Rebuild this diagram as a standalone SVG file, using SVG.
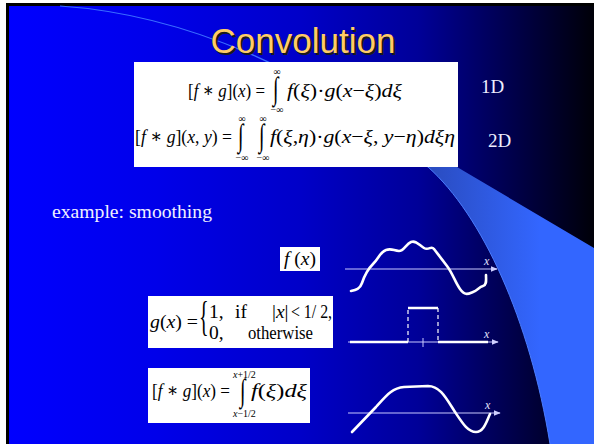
<svg xmlns="http://www.w3.org/2000/svg" width="594" height="444" viewBox="0 0 594 444">
<defs>
<linearGradient id="bg" gradientUnits="userSpaceOnUse" x1="8" y1="0" x2="594" y2="0">
<stop offset="0" stop-color="#0000ff"/>
<stop offset="0.25" stop-color="#0000ea"/>
<stop offset="0.5" stop-color="#0000c8"/>
<stop offset="0.7" stop-color="#000098"/>
<stop offset="0.85" stop-color="#000050"/>
<stop offset="1" stop-color="#000008"/>
</linearGradient>
<linearGradient id="band" gradientUnits="userSpaceOnUse" x1="430" y1="0" x2="540" y2="0">
<stop offset="0" stop-color="#2a4cc0"/>
<stop offset="1" stop-color="#3366ff"/>
</linearGradient>
<marker id="arr" viewBox="0 0 10 10" refX="9" refY="5" markerWidth="7" markerHeight="7" markerUnits="userSpaceOnUse" orient="auto">
<path d="M0,1 L10,5 L0,9 Z" fill="#d0d0ff"/>
</marker>
<style>
.m{font-family:"Liberation Serif","DejaVu Serif",serif;font-size:19.5px;fill:#000}
.i{font-style:italic}
.lim{font-family:"Liberation Serif","DejaVu Serif",serif;font-size:10px;fill:#000}
.int{font-family:"Liberation Serif","DejaVu Serif",serif;font-size:22px;fill:#000}
.br{font-family:"Liberation Serif","DejaVu Serif",serif;font-size:20px;fill:#000}
.lbl{font-family:"Liberation Serif",serif;font-size:19px;fill:#f0f0ff}
.ax{stroke:#c8c8ff;stroke-width:1;fill:none}
.ax-x{font-family:"Liberation Serif",serif;font-style:italic;font-size:12px;fill:#e0e0ff}
.crv{stroke:#fff;stroke-width:2.6;fill:none;stroke-linejoin:round;stroke-linecap:round}
.box{fill:#fff}
</style>
</defs>
<rect x="0" y="0" width="594" height="444" fill="#fff"/>
<rect x="6" y="3" width="588" height="441" fill="#000"/>
<rect x="9" y="6" width="585" height="438" fill="url(#bg)"/>
<path d="M400,140 L457,167 L594,248 L594,444 L550,444 C530,320 482,215 428,167 Z" fill="url(#band)"/>
<path d="M60,6 C180,14 320,70 428,167" stroke="#3a6cff" stroke-width="1.2" fill="none"/>
<path d="M428,167 C482,215 530,320 550,444" stroke="#4a7cff" stroke-width="1" fill="none"/>

<g id="title">
<text x="305" y="55" text-anchor="middle" font-family="Liberation Sans, Arial, sans-serif" font-size="35" fill="#1a1a1a">Convolution</text>
<text x="303" y="53" text-anchor="middle" font-family="Liberation Sans, Arial, sans-serif" font-size="35" fill="#ffcc66">Convolution</text>
</g>

<g id="formula-box">
<rect class="box" x="134" y="62" width="324" height="105"/>
<text class="m" x="188" y="97" textLength="77" lengthAdjust="spacingAndGlyphs">[<tspan class="i">f</tspan> ∗ <tspan class="i">g</tspan>](<tspan class="i">x</tspan>) =</text>
<text class="int" transform="translate(273,99) scale(0.9,1.45)">∫</text>
<text class="lim" x="277" y="75" text-anchor="middle">∞</text>
<text class="lim" x="277" y="113" text-anchor="middle">−∞</text>
<text class="m" x="287" y="97" textLength="115" lengthAdjust="spacingAndGlyphs"><tspan class="i">f</tspan>(<tspan class="i">ξ</tspan>)·<tspan class="i">g</tspan>(<tspan class="i">x</tspan>−<tspan class="i">ξ</tspan>)<tspan class="i">dξ</tspan></text>

<text class="m" x="135" y="143" textLength="97" lengthAdjust="spacingAndGlyphs">[<tspan class="i">f</tspan> ∗ <tspan class="i">g</tspan>](<tspan class="i">x</tspan>, <tspan class="i">y</tspan>) =</text>
<text class="int" transform="translate(238,146) scale(0.9,1.45)">∫</text>
<text class="int" transform="translate(259,146) scale(0.9,1.45)">∫</text>
<text class="lim" x="242" y="122" text-anchor="middle">∞</text>
<text class="lim" x="263" y="122" text-anchor="middle">∞</text>
<text class="lim" x="242" y="161" text-anchor="middle">−∞</text>
<text class="lim" x="263" y="161" text-anchor="middle">−∞</text>
<text class="m" x="270" y="143" textLength="185" lengthAdjust="spacingAndGlyphs"><tspan class="i">f</tspan>(<tspan class="i">ξ</tspan>,<tspan class="i">η</tspan>)·<tspan class="i">g</tspan>(<tspan class="i">x</tspan>−<tspan class="i">ξ</tspan>, <tspan class="i">y</tspan>−<tspan class="i">η</tspan>)<tspan class="i">dξη</tspan></text>
</g>

<g id="label-1d"><text class="lbl" x="481" y="93">1D</text></g>
<g id="label-2d"><text class="lbl" x="488" y="147">2D</text></g>

<g id="example"><text class="lbl" x="52" y="218" textLength="160" lengthAdjust="spacingAndGlyphs">example: smoothing</text></g>

<g id="fx-box">
<rect class="box" x="280" y="247" width="40" height="24"/>
<text class="m" x="284" y="265" textLength="32" lengthAdjust="spacingAndGlyphs"><tspan class="i">f</tspan> (<tspan class="i">x</tspan>)</text>
</g>

<g id="gx-box">
<rect class="box" x="148" y="296" width="185" height="52"/>
<text class="m" x="150" y="328" textLength="48" lengthAdjust="spacingAndGlyphs"><tspan class="i">g</tspan>(<tspan class="i">x</tspan>) =</text>
<text class="br" transform="translate(199,330) scale(1,2.1)">{</text>
<text class="m" x="209" y="318">1,</text>
<text class="m" x="235" y="318">if</text>
<text class="m" x="272" y="318">|<tspan class="i">x</tspan>|</text>
<text class="m" x="291" y="318" textLength="41" lengthAdjust="spacingAndGlyphs">&lt; 1/ 2,</text>
<text class="m" x="209" y="339">0,</text>
<text class="m" x="248" y="339" textLength="65" lengthAdjust="spacingAndGlyphs">otherwise</text>
</g>

<g id="conv-box">
<rect class="box" x="148" y="368" width="162" height="55"/>
<text class="m" x="152" y="397" textLength="78" lengthAdjust="spacingAndGlyphs">[<tspan class="i">f</tspan> ∗ <tspan class="i">g</tspan>](<tspan class="i">x</tspan>) =</text>
<text class="int" transform="translate(240,401) scale(0.9,1.45)">∫</text>
<text class="lim" x="233" y="378"><tspan class="i">x</tspan>+1/2</text>
<text class="lim" x="233" y="417"><tspan class="i">x</tspan>−1/2</text>
<text class="m" x="251" y="397" textLength="56" lengthAdjust="spacingAndGlyphs"><tspan class="i">f</tspan>(<tspan class="i">ξ</tspan>)<tspan class="i">dξ</tspan></text>
</g>

<g id="graph-f">
<line class="ax" x1="345" y1="269" x2="497" y2="269" marker-end="url(#arr)"/>
<text class="ax-x" x="484" y="265">x</text>
<path class="crv" d="M351,291 C356,290 360,289 362,283 S367,270 373,264 S380,252 386,250 S394,251 399,251 S406,244 411,242 S419,245 424,248 S431,245 434,249 S441,258 447,266 S455,282 460,289 S468,294 473,292 S479,287 483,286 S486,280 486,275"/>
</g>

<g id="graph-g">
<line class="ax" x1="348" y1="342" x2="498" y2="342" marker-end="url(#arr)"/>
<text class="ax-x" x="484" y="338">x</text>
<path d="M350,342 H408 M438,342 H488 M408,308 H438" stroke="#fff" stroke-width="2.6" fill="none"/>
<path d="M408,342 V308 M438,308 V342" stroke="#fff" stroke-width="1.2" stroke-dasharray="4,3" fill="none"/>
<line x1="423" y1="338" x2="423" y2="347" stroke="#c8c8ff" stroke-width="1"/>
</g>

<g id="graph-conv">
<line class="ax" x1="348" y1="413" x2="500" y2="413" marker-end="url(#arr)"/>
<text class="ax-x" x="485" y="409">x</text>
<path class="crv" d="M352,432 L376,407 C386,396 392,388 404,387 L428,386 C440,386 446,398 455,412 C463,424 468,432 476,432 C484,432 487,420 490,414"/>
</g>
</svg>
